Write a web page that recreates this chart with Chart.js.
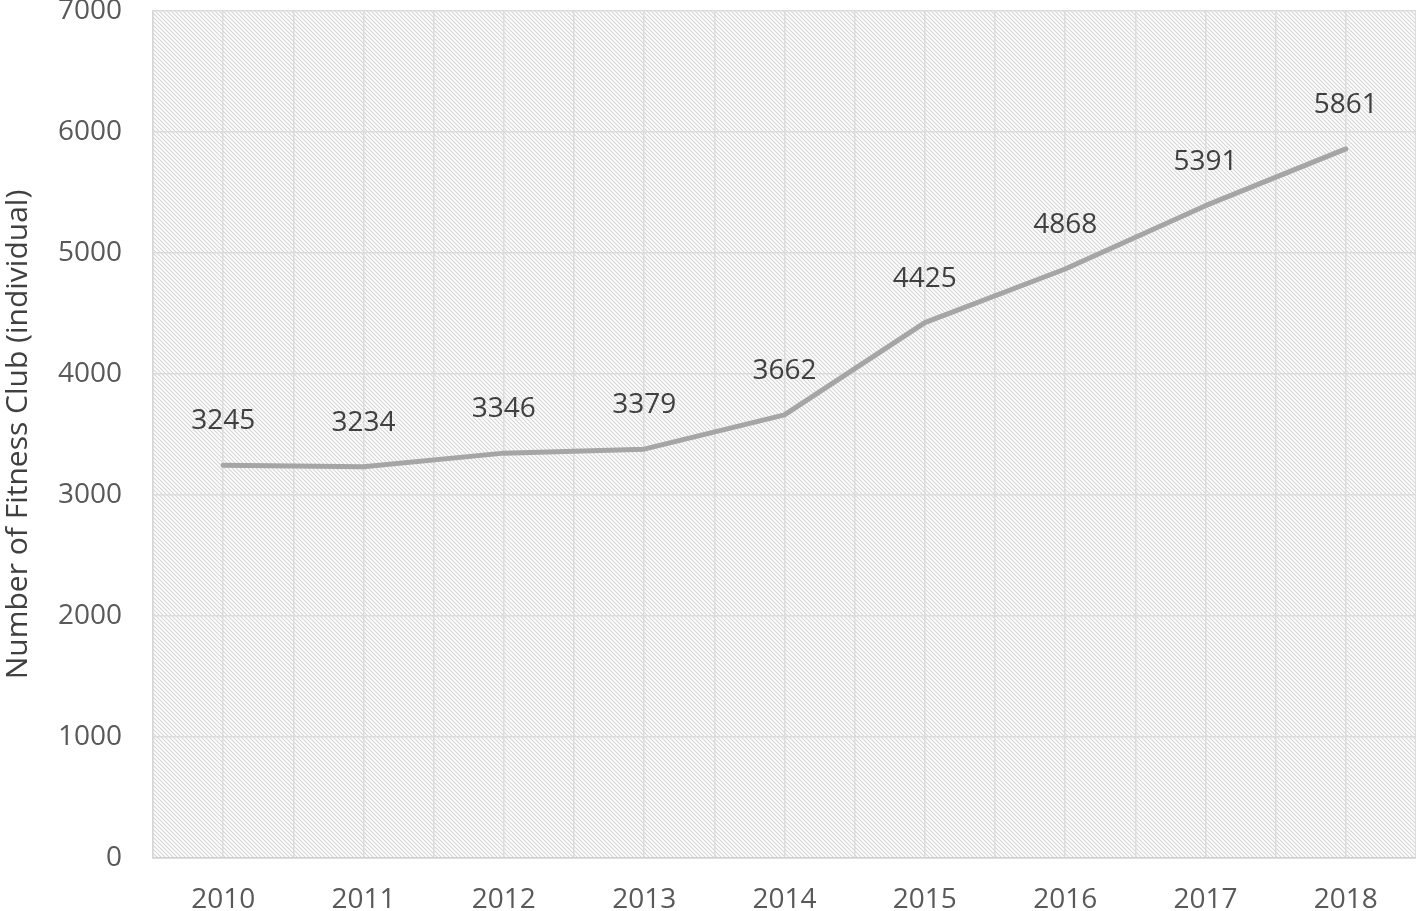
<!DOCTYPE html>
<html>
<head>
<meta charset="utf-8">
<script src="https://cdn.jsdelivr.net/npm/chart.js@4"></script>
<style>
  html, body { margin: 0; padding: 0; background: #fff; }
  #wrap { width: 1416px; height: 911px; }
</style>
</head>
<body>
<div id="wrap"><canvas id="myChart" width="1416" height="911"></canvas></div>
<script>
const years = ['2010', '2011', '2012', '2013', '2014', '2015', '2016', '2017', '2018']
const clubs = [3245, 3234, 3346, 3379, 3662, 4425, 4868, 5391, 5861]
const yTicks = [0, 1000, 2000, 3000, 4000, 5000, 6000, 7000]

const FONT = "'Open Sans', 'Noto Sans', sans-serif"

// diagonal hatch for the plot area
const makeHatch = (ctx) => {
    const tile = document.createElement('canvas')
    tile.width = 4
    tile.height = 4
    const t = tile.getContext('2d')
    t.fillStyle = '#ffffff'
    t.fillRect(0, 0, 4, 4)
    t.strokeStyle = '#d6d6d6'
    t.lineWidth = 1.2
    t.beginPath()
    t.moveTo(-1, -1); t.lineTo(5, 5)
    t.moveTo(-1, 3); t.lineTo(1, 5)
    t.moveTo(3, -1); t.lineTo(5, 1)
    t.stroke()
    return ctx.createPattern(tile, 'repeat')
}

const plotBg = {
    id: 'plotBg',
    beforeDraw(chart) {
        const { ctx, chartArea: a } = chart
        ctx.save()
        ctx.fillStyle = makeHatch(ctx)
        ctx.fillRect(a.left, a.top, a.right - a.left, a.bottom - a.top)
        ctx.restore()
    },
    afterDatasetsDraw(chart) {
        const { ctx } = chart
        const meta = chart.getDatasetMeta(0)
        ctx.save()
        ctx.font = "28px " + FONT
        ctx.fillStyle = '#404040'
        ctx.textAlign = 'center'
        ctx.textBaseline = 'middle'
        meta.data.forEach((pt, i) => {
            ctx.fillText(String(clubs[i]), pt.x, pt.y - 44)
        })
        ctx.restore()
    }
}

const ctx = document.getElementById('myChart')

new Chart(ctx, {
    type: 'line',
    data: {
        datasets: [{
            data: clubs.map((v, i) => ({ x: i, y: v })),
            borderColor: '#a5a5a5',
            borderWidth: 5,
            pointRadius: 0,
            tension: 0,
            borderCapStyle: 'round',
            borderJoinStyle: 'round',
            clip: false
        }]
    },
    options: {
        responsive: false,
        animation: false,
        layout: { padding: { top: 11, right: 0, left: 0, bottom: 0 } },
        plugins: {
            legend: { display: false },
            tooltip: { enabled: false }
        },
        scales: {
            x: {
                type: 'linear',
                min: -0.5,
                max: years.length - 0.5,
                grid: { color: '#dcdcdc', lineWidth: 1.5, drawTicks: false },
                border: { display: true, color: '#d0d0d0', width: 1.5 },
                afterBuildTicks: (s) => {
                    const t = []
                    for (let i = 0; i <= years.length * 2; i++) t.push({ value: -0.5 + i * 0.5 })
                    s.ticks = t
                },
                ticks: {
                    color: '#595959',
                    font: { family: FONT, size: 28 },
                    padding: 25,
                    maxRotation: 0,
                    autoSkip: false,
                    callback: (v) => Number.isInteger(v) ? years[v] : ''
                },
                afterFit: (s) => {
                    s.height = 53
                    s.paddingLeft = 0
                    s.paddingRight = 0
                }
            },
            y: {
                min: 0,
                max: 7000,
                afterBuildTicks: (s) => { s.ticks = yTicks.map(v => ({ value: v })) },
                grid: { color: '#dcdcdc', lineWidth: 1.5, drawTicks: false },
                border: { display: true, color: '#d6d6d6', width: 1.5 },
                ticks: {
                    color: '#595959',
                    font: { family: FONT, size: 28 },
                    padding: 31,
                    callback: (v) => String(v)
                },
                title: {
                    display: true,
                    text: 'Number of Fitness Club (individual)',
                    color: '#404040',
                    font: { family: FONT, size: 30 },
                    padding: { top: 0, bottom: 0 }
                },
                afterFit: (s) => {
                    s.width = 153
                    s.paddingTop = 0
                    s.paddingBottom = 0
                }
            }
        }
    },
    plugins: [plotBg]
})
</script>
</body>
</html>
